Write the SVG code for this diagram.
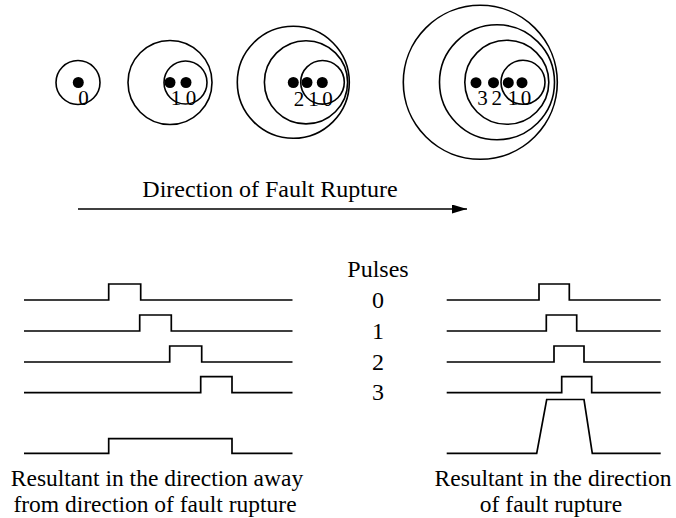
<svg xmlns="http://www.w3.org/2000/svg" width="676" height="518" viewBox="0 0 676 518">
<style>
.c{fill:none;stroke:#000;stroke-width:1.6}
.d{fill:#000}
.w{fill:none;stroke:#000;stroke-width:1.7}
.t{font-family:"Liberation Serif","Times New Roman",serif;fill:#000;font-size:24px}
.b{font-size:23.5px}
.n{font-family:"Liberation Serif","Times New Roman",serif;fill:#000;font-size:21px;text-anchor:middle}
.m{text-anchor:middle}
</style>
<defs>
<marker id="ah" markerWidth="16" markerHeight="9" refX="15" refY="4.5" orient="auto" markerUnits="userSpaceOnUse">
<path d="M0,0 L15,4.5 L0,9 Z" fill="#000"/>
</marker>
</defs>
<g id="wave-t0">
<circle class="c" cx="78" cy="82.5" r="22"/>
<circle class="d" cx="78.3" cy="82.5" r="5.5"/>
<text class="n" x="83.5" y="105">0</text>
</g>
<g id="wave-t1">
<circle class="c" cx="170" cy="82.5" r="42"/>
<circle class="c" cx="185.5" cy="82.5" r="21.5"/>
<circle class="d" cx="170" cy="82.5" r="5.5"/>
<circle class="d" cx="186" cy="82.5" r="5.5"/>
<text class="n" x="176" y="105">1</text>
<text class="n" x="191" y="105">0</text>
</g>
<g id="wave-t2">
<circle class="c" cx="293.3" cy="82.3" r="56"/>
<circle class="c" cx="306" cy="82.3" r="41.6"/>
<circle class="c" cx="322.5" cy="82.3" r="21.8"/>
<circle class="d" cx="293.3" cy="82.5" r="5.5"/>
<circle class="d" cx="307" cy="82.5" r="5.5"/>
<circle class="d" cx="322.3" cy="82.5" r="5.5"/>
<text class="n" x="299" y="105.5">2</text>
<text class="n" x="313.5" y="105.5">1</text>
<text class="n" x="327.5" y="105.5">0</text>
</g>
<g id="wave-t3">
<circle class="c" cx="480.3" cy="82.3" r="77"/>
<circle class="c" cx="497" cy="82.3" r="57.5"/>
<circle class="c" cx="506.8" cy="82.3" r="42"/>
<circle class="c" cx="523" cy="82.3" r="22"/>
<circle class="d" cx="476" cy="82.7" r="5.5"/>
<circle class="d" cx="493.5" cy="82.7" r="5.5"/>
<circle class="d" cx="508.3" cy="82.7" r="5.5"/>
<circle class="d" cx="522" cy="82.7" r="5.5"/>
<text class="n" x="482.5" y="105">3</text>
<text class="n" x="496.7" y="105">2</text>
<text class="n" x="513" y="105">1</text>
<text class="n" x="526" y="105">0</text>
</g>
<g id="direction">
<text class="t m" x="270" y="196.5">Direction of Fault Rupture</text>
</g>
<g id="connectors">
<line x1="78" y1="209" x2="467" y2="209" stroke="#000" stroke-width="1.6" marker-end="url(#ah)"/>
</g>
<g id="pulses-away">
<polyline class="w" points="24,300 108.7,300 108.7,284 140.7,284 140.7,300 292.5,300"/>
<polyline class="w" points="24,331 139.7,331 139.7,315 171.3,315 171.3,331 292.5,331"/>
<polyline class="w" points="24,362 169.7,362 169.7,346 201.7,346 201.7,362 292.5,362"/>
<polyline class="w" points="24,392.7 200.7,392.7 200.7,376.7 232,376.7 232,392.7 292.5,392.7"/>
<polyline class="w" points="24,453.3 108.7,453.3 108.7,438.7 232,438.7 232,453.3 292.5,453.3"/>
</g>
<g id="pulses-label">
<text class="t m" x="378" y="277">Pulses</text>
<text class="t m" x="378" y="308">0</text>
<text class="t m" x="378" y="339">1</text>
<text class="t m" x="378" y="370">2</text>
<text class="t m" x="378" y="400">3</text>
</g>
<g id="pulses-toward">
<polyline class="w" points="446.7,300 539,300 539,284 569.3,284 569.3,300 660.7,300"/>
<polyline class="w" points="446.7,331 546.3,331 546.3,315 576.7,315 576.7,331 660.7,331"/>
<polyline class="w" points="446.7,362 554,362 554,346 584,346 584,362 660.7,362"/>
<polyline class="w" points="446.7,392.7 561.7,392.7 561.7,376.7 591.7,376.7 591.7,392.7 660.7,392.7"/>
<polyline class="w" points="446.7,453.3 536.7,453.3 546.7,399.5 584,399.5 592.3,453.3 660.7,453.3"/>
</g>
<g id="label-away">
<text class="t b m" x="157" y="486">Resultant in the direction away</text>
<text class="t b m" x="155" y="512">from direction of fault rupture</text>
</g>
<g id="label-toward">
<text class="t b m" x="553" y="486">Resultant in the direction</text>
<text class="t b m" x="551" y="512">of fault rupture</text>
</g>
</svg>
